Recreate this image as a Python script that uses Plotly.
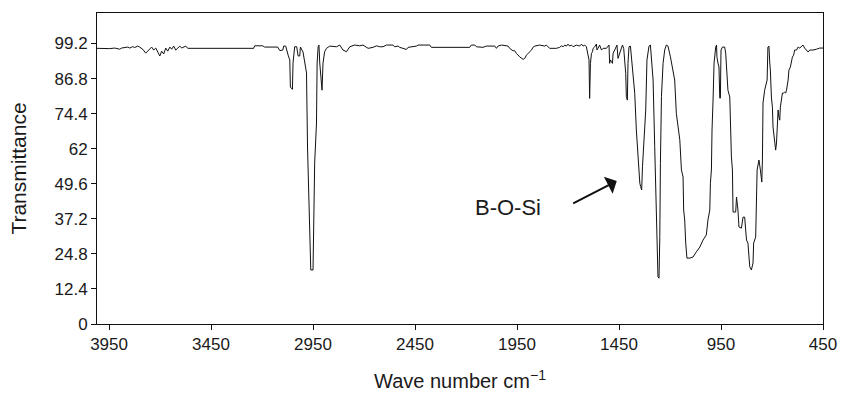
import plotly.graph_objects as go

# Wave number (cm^-1) and transmittance (%)
wavenumber = [
    4009, 3971, 3947, 3922, 3898, 3888, 3873, 3858, 3848, 3834, 3824, 3809, 3800, 3785, 3770, 3760,
    3750, 3741, 3731, 3721, 3711, 3701, 3692, 3682, 3672, 3662, 3652, 3643, 3633, 3623, 3613, 3603,
    3594, 3584, 3574, 3564, 3554, 3241, 3236, 3197, 3187, 3123, 3113, 3098, 3094, 3084, 3072, 3064,
    3061, 3051, 3048, 3045, 3040, 3030, 3023, 3015, 3012, 2999, 2982, 2977, 2971, 2966, 2961, 2950,
    2947, 2942, 2933, 2930, 2925, 2921, 2917, 2912, 2906, 2901, 2896, 2893, 2884, 2868, 2835, 2819,
    2803, 2786, 2770, 2746, 2721, 2705, 2680, 2656, 2639, 2623, 2607, 2590, 2558, 2550, 2533, 2525,
    2509, 2492, 2484, 2443, 2435, 2378, 2370, 2182, 2174, 2157, 2149, 2117, 2100, 2059, 2051, 2043,
    2026, 1994, 1986, 1970, 1961, 1953, 1937, 1920, 1912, 1904, 1879, 1872, 1863, 1839, 1814, 1806,
    1790, 1757, 1741, 1732, 1724, 1716, 1708, 1700, 1692, 1683, 1675, 1659, 1643, 1634, 1626, 1618,
    1610, 1602, 1597, 1594, 1590, 1585, 1580, 1577, 1569, 1561, 1558, 1553, 1545, 1536, 1528, 1512,
    1504, 1499, 1496, 1492, 1487, 1482, 1479, 1471, 1466, 1460, 1455, 1447, 1438, 1433, 1427, 1417,
    1414, 1409, 1406, 1401, 1394, 1381, 1373, 1365, 1357, 1348, 1344, 1339, 1335, 1329, 1319, 1313,
    1303, 1296, 1283, 1275, 1267, 1259, 1254, 1250, 1247, 1242, 1234, 1226, 1218, 1210, 1198, 1188,
    1177, 1169, 1156, 1152, 1144, 1136, 1133, 1128, 1123, 1117, 1103, 1087, 1071, 1054, 1038, 1022,
    1014, 1005, 1002, 997, 994, 992, 989, 984, 981, 976, 972, 970, 965, 960, 956, 953,
    950, 943, 932, 927, 916, 907, 899, 894, 891, 878, 874, 867, 862, 850, 842, 834,
    829, 825, 818, 813, 809, 801, 793, 790, 780, 773, 764, 757, 750, 747, 744, 736,
    724, 720, 715, 711, 708, 703, 698, 695, 687, 682, 678, 675, 670, 666, 662, 659,
    654, 649, 643, 638, 633, 629, 621, 617, 610, 605, 600, 594, 589, 580, 572, 564,
    556, 548, 540, 532, 523, 515, 499, 482, 466, 450,
]
transmittance = [
    97.5, 97.4, 97.4, 97.6, 97.2, 97.6, 97.8, 97.95, 97.6, 98.1, 97.8, 98.3, 97.95, 97.2, 95.8, 96.5,
    97.2, 97.95, 96.9, 97.6, 96.2, 94.8, 96.5, 95.5, 97.6, 96.5, 97.95, 97.2, 98.3, 96.9, 97.6, 98.3,
    97.6, 97.95, 98.3, 97.5, 97.5, 97.5, 98.4, 98.4, 97.95, 97.95, 96.7, 96.9, 98.3, 98.3, 95.1, 93.4,
    83.8, 83.0, 92.3, 95.1, 98.06, 98.06, 94.8, 94.8, 97.95, 96.2, 88.8, 62.6, 44.9, 27.2, 19.1, 19.1,
    33.2, 56.9, 71.1, 92.3, 98.06, 98.66, 92.3, 88.8, 82.7, 92.3, 94.5, 96.3, 97.5, 98.3, 98.06, 98.66,
    96.9, 96.3, 98.06, 98.66, 98.4, 98.66, 97.5, 97.85, 98.4, 98.06, 98.06, 98.66, 98.66, 98.06, 98.3, 97.85,
    97.5, 97.1, 97.85, 98.3, 98.66, 98.66, 97.85, 97.85, 98.66, 98.66, 98.06, 97.85, 98.3, 98.3, 97.5, 98.3,
    98.66, 98.3, 97.5, 96.65, 96.65, 95.7, 94.5, 93.6, 93.95, 95.1, 96.9, 97.85, 98.3, 98.66, 98.3, 98.66,
    97.5, 97.5, 97.85, 98.4, 98.06, 98.66, 98.3, 99.0, 98.3, 98.66, 98.06, 98.66, 98.3, 99.0, 98.3, 98.66,
    98.06, 95.1, 93.4, 79.8, 92.2, 95.7, 96.3, 97.5, 98.06, 99.0, 96.9, 97.5, 98.66, 96.9, 97.5, 97.5,
    98.06, 98.66, 92.2, 93.4, 92.8, 92.2, 95.7, 96.9, 98.06, 98.66, 93.95, 95.7, 98.3, 98.66, 97.5, 88.6,
    80.4, 79.2, 92.2, 98.06, 98.3, 87.4, 81.6, 68.6, 59.2, 49.8, 48.6, 47.4, 55.6, 63.9, 75.7, 93.4,
    98.3, 98.66, 86.3, 62.7, 33.2, 16.7, 16.2, 30.9, 56.8, 80.4, 92.2, 96.9, 98.66, 98.3, 94.5, 91.0,
    86.3, 74.5, 66.8, 65.1, 54.5, 52.0, 40.3, 36.8, 28.6, 23.3, 23.3, 23.7, 25.5, 27.2, 29.7, 31.5,
    36.8, 40.3, 49.8, 54.5, 68.6, 76.7, 79.2, 92.3, 95.8, 97.95, 98.66, 94.4, 92.3, 90.9, 79.9, 79.9,
    96.9, 97.95, 97.95, 95.8, 82.7, 80.3, 59.1, 54.5, 39.6, 39.6, 44.9, 40.3, 34.3, 33.9, 37.8, 37.8,
    33.2, 29.7, 28.6, 22.6, 20.2, 19.1, 21.6, 28.6, 30.8, 54.5, 58.0, 54.5, 50.2, 58.0, 78.2, 82.7,
    86.3, 97.95, 98.3, 92.3, 89.8, 80.3, 76.7, 69.7, 65.1, 61.5, 64.0, 68.6, 75.7, 73.2, 72.1, 76.7,
    80.3, 81.7, 81.7, 82.0, 81.7, 82.7, 86.3, 89.8, 90.9, 92.6, 94.4, 95.1, 96.9, 96.9, 97.95, 97.6,
    98.3, 98.66, 97.6, 96.9, 96.2, 96.9, 96.9, 97.2, 97.6, 97.6,
]

x_ticks = [3950, 3450, 2950, 2450, 1950, 1450, 950, 450]
y_ticks = [0, 12.4, 24.8, 37.2, 49.6, 62, 74.4, 86.8, 99.2]
y_tick_labels = ["0", "12.4", "24.8", "37.2", "49.6", "62", "74.4", "86.8", "99.2"]

annotation_text = "B-O-Si"
text_pos = (1996, 41.2)
arrow_tail = (1682, 42.4)
arrow_head = (1461, 50.6)

FONT = "Liberation Sans, Arial, sans-serif"

fig = go.Figure()
fig.add_trace(go.Scatter(
    x=wavenumber, y=transmittance, mode="lines",
    line=dict(color="#111111", width=1),
    hoverinfo="skip", showlegend=False,
))

fig.add_annotation(x=text_pos[0], y=text_pos[1], xref="x", yref="y",
                   text=annotation_text, showarrow=False,
                   font=dict(family=FONT, size=22, color="#1a1a1a"))
fig.add_annotation(x=arrow_head[0], y=arrow_head[1], ax=arrow_tail[0], ay=arrow_tail[1],
                   xref="x", yref="y", axref="x", ayref="y", text="",
                   showarrow=True, arrowhead=1, arrowsize=1.6, arrowwidth=2,
                   arrowcolor="#111111")

fig.update_layout(
    width=841, height=396,
    margin=dict(l=97, r=18, t=13, b=72, autoexpand=False),
    paper_bgcolor="white", plot_bgcolor="white",
    font=dict(family=FONT, color="#1a1a1a"),
    xaxis=dict(
        range=[4009, 450], tickvals=x_ticks, ticks="outside", ticklen=5,
        tickcolor="#111", showline=True, linecolor="#111", linewidth=1, mirror=True,
        showgrid=False, zeroline=False, tickfont=dict(size=17), automargin=False,
        title=dict(text="Wave number cm<sup>−1</sup>", font=dict(size=20), standoff=20),
    ),
    yaxis=dict(
        range=[0, 110], tickvals=y_ticks, ticktext=y_tick_labels, ticks="outside", ticklen=5,
        tickcolor="#111", showline=True, linecolor="#111", linewidth=1, mirror=True,
        showgrid=False, zeroline=False, tickfont=dict(size=17), automargin=False,
        title=dict(text="Transmittance", font=dict(size=21), standoff=22),
    ),
)

fig.write_html("out.html", config={"displayModeBar": False, "staticPlot": True},
               post_script="document.body.style.margin='0';document.body.style.padding='0';")
